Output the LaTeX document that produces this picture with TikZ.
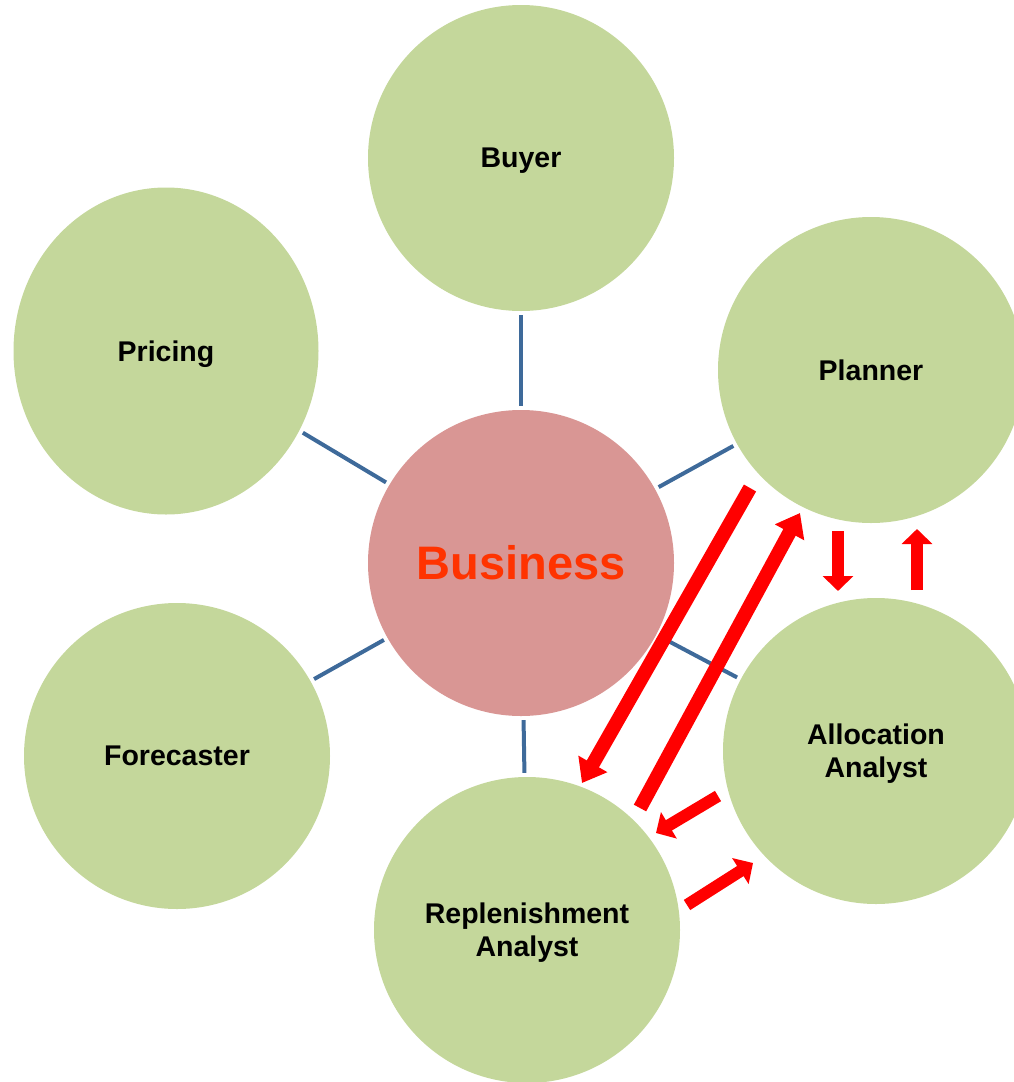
\documentclass[tikz,border=0pt]{standalone}
\usepackage{fontspec}
\setmainfont{Liberation Sans}
\usetikzlibrary{arrows.meta,shapes.geometric}
\definecolor{leaf}{HTML}{C4D79B}
\definecolor{rose}{HTML}{D99694}
\definecolor{bizred}{HTML}{FF3300}
\definecolor{linkblue}{HTML}{3E6A9A}
\begin{document}
\begin{tikzpicture}[x=1pt,y=-1pt,
  role/.style={circle, fill=leaf, minimum size=306pt, inner sep=0pt, align=center,
    text depth=0pt, font=\fontsize{28.5}{33}\selectfont\bfseries},
  ovalrole/.style={role, ellipse, minimum width=305pt, minimum height=327pt},
  hub/.style={circle, fill=rose, minimum size=306pt, inner sep=0pt,
    font=\fontsize{47}{50}\selectfont\bfseries, text=bizred},
  link/.style={draw=linkblue, line width=4pt, shorten >=4pt, shorten <=4pt},
  bigarrow/.style={draw=red, line width=14pt, -{Triangle[width=32pt,length=22pt]}},
  smallarrow/.style={draw=red, line width=12pt, -{Triangle[width=30pt,length=15pt]}}]
\useasboundingbox (0,0) rectangle (1014,1082);
\clip (0,0) rectangle (1014,1082);
\node[role] (buyer) at (521,158) {Buyer};
\node[ovalrole] (pricing) at (166,351) {Pricing};
\node[role] (planner) at (871,370) {Planner};
\node[role] (forecaster) at (177,756) {Forecaster};
\node[role] (alloc) at (876,751) {Allocation\\Analyst};
\node[role] (repl) at (527,930) {Replenishment\\Analyst};
\node[hub] (business) at (521,563) {Business};
\draw[link] (buyer) -- (business);
\draw[link] (pricing) -- (business);
\draw[link] (planner) -- (business);
\draw[link] (forecaster) -- (business);
\draw[link] (alloc) -- (business);
\draw[link] (repl) -- (business);
\coordinate (l1s) at (750,488);
\coordinate (l1e) at (582,783);
\coordinate (l2s) at (640,808);
\coordinate (l2e) at (800,513);
\coordinate (d1s) at (838,531);
\coordinate (d1e) at (838,591);
\coordinate (u1s) at (917,590);
\coordinate (u1e) at (917,529);
\coordinate (s1s) at (718,796);
\coordinate (s1e) at (656,833);
\coordinate (s2s) at (687,905);
\coordinate (s2e) at (753,863);
\draw[bigarrow] (l1s) -- (l1e);
\draw[bigarrow] (l2s) -- (l2e);
\draw[smallarrow] (d1s) -- (d1e);
\draw[smallarrow] (u1s) -- (u1e);
\draw[smallarrow] (s1s) -- (s1e);
\draw[smallarrow] (s2s) -- (s2e);
\end{tikzpicture}
\end{document}
